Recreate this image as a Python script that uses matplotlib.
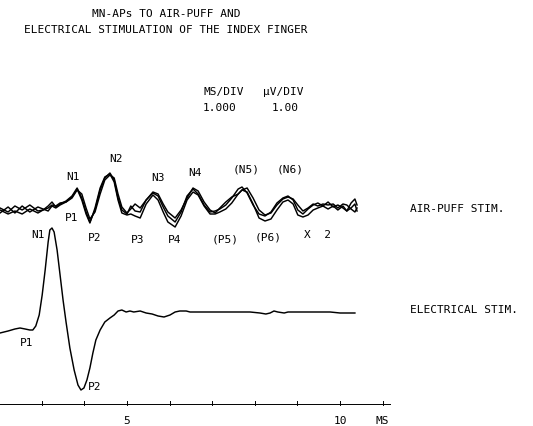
import matplotlib
matplotlib.use("Agg")
import matplotlib.pyplot as plt

# --- data (ms, uV) ---
# air-puff: three superimposed trials, shared time base
puff_t = [2.02, 2.21, 2.37, 2.54, 2.72, 2.91, 3.03, 3.15, 3.24, 3.33, 3.43, 3.57,
          3.71, 3.83, 3.94, 4.04, 4.13, 4.25, 4.37, 4.48, 4.60, 4.70, 4.79, 4.88,
          5.00, 5.09, 5.19, 5.31, 5.45, 5.61, 5.73, 5.85, 5.96, 6.13, 6.27, 6.41,
          6.55, 6.67, 6.81, 6.95, 7.07, 7.18, 7.32, 7.46, 7.61, 7.70, 7.82, 7.96,
          8.10, 8.24, 8.38, 8.52, 8.66, 8.78, 8.90, 9.01, 9.13, 9.25, 9.37, 9.48,
          9.60, 9.72, 9.84, 9.95, 10.07, 10.16, 10.26, 10.35, 10.40]
puff_a = [0.2, -0.2, 0.4, 0.0, 0.5, -0.1, 0.0, 0.4, 0.8, 0.3, 0.6, 0.9,
          1.4, 2.2, 1.2, -0.2, -1.2, 0.0, 2.0, 3.2, 3.7, 3.0, 1.2, 0.0,
          -0.4, 0.4, -0.1, -0.2, 1.0, 1.7, 1.4, 0.3, -0.6, -1.2, -0.2, 1.4,
          2.1, 1.6, 0.5, -0.2, -0.1, 0.1, 0.5, 1.2, 2.1, 2.3, 1.7, 0.5,
          -0.4, -0.6, -0.2, 0.7, 1.2, 1.4, 1.0, 0.0, -0.4, 0.1, 0.5, 0.7,
          0.4, 0.8, 0.3, 0.5, 0.2, -0.1, 0.7, 1.1, 0.5]
puff_b = [-0.3, 0.3, -0.3, 0.4, -0.2, 0.3, 0.1, -0.1, 0.4, 0.2, 0.5, 0.8,
          1.2, 2.0, 1.6, 0.2, -0.9, -0.2, 1.6, 3.0, 3.5, 3.2, 1.6, 0.3,
          -0.3, 0.1, 0.6, 0.2, 1.0, 1.8, 1.6, 0.6, -0.2, -0.8, 0.0, 1.2,
          2.2, 1.9, 0.8, 0.0, -0.3, 0.2, 0.8, 1.3, 1.6, 2.0, 2.2, 1.2,
          0.0, -0.5, -0.3, 0.5, 1.1, 1.3, 1.1, 0.5, -0.1, 0.2, 0.6, 0.4,
          0.6, 0.5, 0.6, 0.2, 0.6, 0.5, 0.1, -0.2, 0.2]
puff_c = [0.0, -0.4, -0.1, -0.4, 0.1, -0.3, 0.0, 0.2, 0.5, 0.4, 0.7, 0.8,
          1.3, 2.1, 1.0, -0.4, -1.3, 0.2, 2.2, 3.3, 3.6, 2.8, 1.0, -0.3,
          -0.5, -0.4, -0.6, -0.8, 0.6, 1.5, 1.0, -0.2, -1.2, -1.7, -0.6, 1.0,
          1.8, 1.5, 0.4, -0.4, -0.4, -0.2, 0.1, 0.7, 1.6, 2.0, 1.8, 0.6,
          -0.8, -1.1, -0.9, 0.0, 0.8, 1.0, 0.6, -0.5, -0.7, -0.5, 0.0, 0.2,
          0.4, 0.1, 0.4, 0.0, 0.4, -0.1, 0.2, 0.6, -0.1]

elec_t = [2.02, 2.21, 2.37, 2.49, 2.61, 2.72, 2.79, 2.86, 2.94, 3.01, 3.08, 3.15,
          3.19, 3.24, 3.29, 3.36, 3.43, 3.50, 3.57, 3.66, 3.76, 3.85, 3.92, 3.99,
          4.06, 4.13, 4.20, 4.27, 4.37, 4.48, 4.60, 4.70, 4.79, 4.88, 4.98, 5.07,
          5.16, 5.31, 5.45, 5.59, 5.73, 5.87, 6.01, 6.13, 6.24, 6.39, 6.48, 6.71,
          7.18, 7.65, 7.89, 8.12, 8.26, 8.36, 8.45, 8.54, 8.69, 8.78, 8.92, 9.06,
          9.30, 9.53, 9.77, 10.00, 10.23, 10.35]
elec_v = [-2.1, -1.9, -1.7, -1.6, -1.7, -1.8, -1.8, -1.4, -0.3, 1.7, 4.2, 7.0,
          8.2, 8.4, 8.0, 6.2, 3.7, 1.2, -1.0, -3.6, -5.8, -7.3, -7.8, -7.6,
          -6.8, -5.6, -4.1, -2.8, -1.8, -1.0, -0.6, -0.3, 0.1, 0.2, 0.0, 0.1,
          0.0, 0.1, -0.1, -0.2, -0.4, -0.5, -0.3, 0.0, 0.1, 0.1, 0.0, 0.0,
          0.0, 0.0, 0.0, -0.1, -0.2, -0.1, 0.1, 0.0, -0.1, 0.0, 0.0, 0.0,
          0.0, 0.0, 0.0, -0.1, -0.1, -0.1]

tick_ms = [3, 4, 5, 6, 7, 8, 9, 10, 11]
tick_labels = {5: "5", 10: "10", 11: "MS"}

puff_peaks = [("N1", 3.73, 13.5), ("N2", 4.74, 15.3), ("N3", 5.73, 13.4),
              ("N4", 6.60, 13.9), ("(N5)", 7.79, 14.2), ("(N6)", 8.83, 14.2),
              ("P1", 3.71, 9.4), ("P2", 4.25, 7.4), ("P3", 5.26, 7.2),
              ("P4", 6.13, 7.2), ("(P5)", 7.30, 7.2), ("(P6)", 8.31, 7.4),
              ("X  2", 9.48, 7.7)]
elec_peaks = [("N1", 2.91, 7.7), ("P1", 2.65, -3.1), ("P2", 4.25, -7.5)]

PUFF_OFFSET = 10.2
FONT = dict(family="DejaVu Sans Mono", fontsize=8, color="black")

fig = plt.figure(figsize=(5.33, 4.26), dpi=100)
ax = fig.add_axes([0, 0, 1, 1])
ax.set_xlim(2.02, 14.53)
ax.set_ylim(-11.4, 31.2)
ax.axis("off")

for tr in (puff_a, puff_b, puff_c):
    ax.plot(puff_t, [v + PUFF_OFFSET for v in tr], color="black", lw=1.05)
ax.plot(elec_t, elec_v, color="black", lw=1.05)

for s, x, y in puff_peaks + elec_peaks:
    ax.text(x, y, s, ha="center", va="center", **FONT)

# time axis
axis_y = -9.2
ax.plot([2.02, 11.17], [axis_y, axis_y], color="black", lw=0.7)
for t in tick_ms:
    ax.plot([t, t], [axis_y - 0.1, axis_y + 0.35], color="black", lw=0.7)
    if t in tick_labels:
        ax.text(t, -10.9, tick_labels[t], ha="center", va="center", **FONT)

fig.text(0.311, 0.967, "MN-APs TO AIR-PUFF AND", ha="center", va="center", **FONT)
fig.text(0.311, 0.930, "ELECTRICAL STIMULATION OF THE INDEX FINGER",
         ha="center", va="center", **FONT)
fig.text(203 / 533, 1 - 92 / 426, "MS/DIV", ha="left", va="center", **FONT)
fig.text(263 / 533, 1 - 92 / 426, "\u00b5V/DIV", ha="left", va="center", **FONT)
fig.text(203 / 533, 1 - 108 / 426, "1.000", ha="left", va="center", **FONT)
fig.text(272 / 533, 1 - 108 / 426, "1.00", ha="left", va="center", **FONT)
fig.text(410 / 533, 1 - 209 / 426, "AIR-PUFF STIM.", ha="left", va="center", **FONT)
fig.text(410 / 533, 1 - 310 / 426, "ELECTRICAL STIM.", ha="left", va="center", **FONT)

fig.savefig("out.png", dpi=100, facecolor="white")
